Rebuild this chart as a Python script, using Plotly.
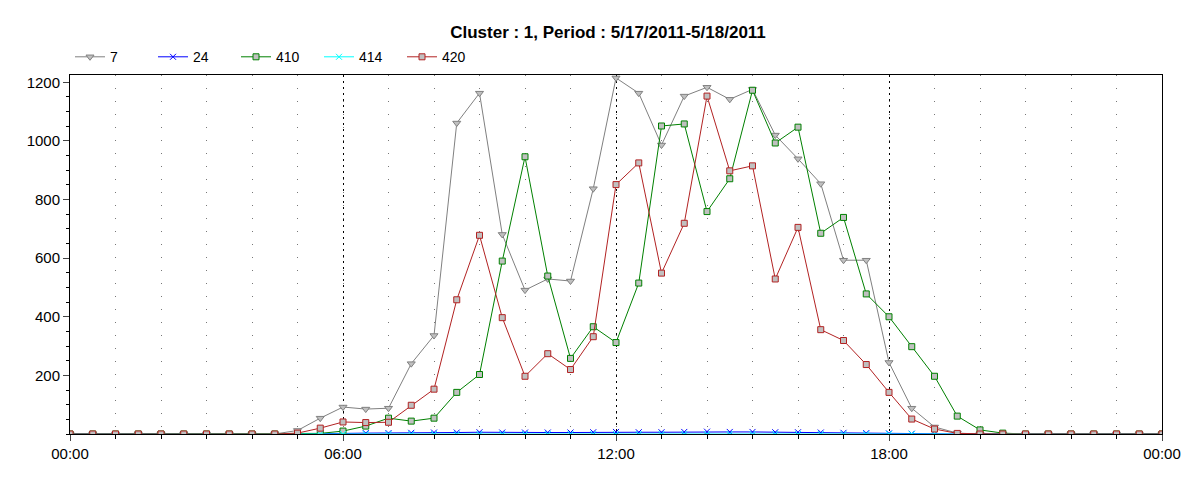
import plotly.graph_objects as go

hours = [i * 0.5 for i in range(49)]

s7 = [0, 0, 0, 0, 0, 0, 0, 0, 0, 0, 12, 54, 92, 85, 88, 240, 336, 1061, 1163, 681,
      491, 529, 522, 837, 1215, 1163, 986, 1153, 1183, 1142, 1176, 1020, 939, 854, 593, 593,
      244, 88, 24, 3, 0, 0, 0, 0, 0, 0, 0, 0, 0]
s24 = [0, 0, 0, 0, 0, 0, 0, 0, 0, 0, 0, 0, 2, 3, 3, 4, 5, 5, 6, 5,
       5, 5, 5, 6, 7, 6, 6, 7, 8, 7, 7, 6, 6, 5, 4, 3,
       2, 1, 0, 0, 0, 0, 0, 0, 0, 0, 0, 0, 0]
s410 = [0, 0, 0, 0, 0, 0, 0, 0, 0, 0, 0, 2, 10, 27, 54, 44, 54, 142, 203, 590,
        946, 539, 258, 366, 312, 515, 1051, 1058, 759, 871, 1173, 993, 1047, 685, 739, 478,
        400, 298, 197, 61, 14, 3, 0, 0, 0, 0, 0, 0, 0]
s414 = [0] * 49
s420 = [0, 0, 0, 0, 0, 0, 0, 0, 0, 0, 3, 20, 41, 39, 40, 98, 153, 458, 678, 397,
        197, 274, 220, 332, 851, 925, 549, 719, 1153, 898, 915, 529, 705, 356, 319, 237,
        142, 51, 17, 2, 0, 0, 0, 0, 0, 0, 0, 0, 0]

fig = go.Figure()
fig.add_trace(go.Scatter(x=hours, y=s7, name="7", mode="lines+markers",
                         line=dict(color="gray", width=1),
                         marker=dict(symbol="triangle-down", size=7, color="#c0c0c0",
                                     line=dict(color="gray", width=1))))
fig.add_trace(go.Scatter(x=hours, y=s24, name="24", mode="lines+markers",
                         line=dict(color="blue", width=1),
                         marker=dict(symbol="x-thin", size=6, line=dict(color="blue", width=1))))
fig.add_trace(go.Scatter(x=hours, y=s410, name="410", mode="lines+markers",
                         line=dict(color="green", width=1),
                         marker=dict(symbol="square", size=6, color="#c0c0c0",
                                     line=dict(color="green", width=1))))
fig.add_trace(go.Scatter(x=hours, y=s414, name="414", mode="lines+markers",
                         line=dict(color="cyan", width=1),
                         marker=dict(symbol="x-thin", size=6, line=dict(color="cyan", width=1))))
fig.add_trace(go.Scatter(x=hours, y=s420, name="420", mode="lines+markers",
                         line=dict(color="#b22222", width=1),
                         marker=dict(symbol="square", size=6, color="#c0c0c0",
                                     line=dict(color="#b22222", width=1))))

fig.update_layout(
    width=1200, height=480,
    margin=dict(l=62, r=46, t=67, b=54, autoexpand=False),
    paper_bgcolor="white", plot_bgcolor="white",
    font=dict(family="Liberation Sans, Arial", size=15, color="black"),
    title=dict(text="<b>Cluster : 1, Period : 5/17/2011-5/18/2011</b>", x=0.5, y=0.95,
               xanchor="center", yanchor="middle", font=dict(size=17)),
    legend=dict(orientation="h", x=0.0, y=1.005, xanchor="left", yanchor="bottom",
                font=dict(size=14), entrywidth=38, bgcolor="rgba(0,0,0,0)"),
    showlegend=True,
)
fig.update_xaxes(range=[0, 24], tickvals=[0, 6, 12, 18, 24],
                 ticktext=["00:00", "06:00", "12:00", "18:00", "00:00"],
                 showline=True, linecolor="black", mirror=True, ticks="outside", ticklen=6,
                 showgrid=True, gridcolor="black", griddash="2px,4px", gridwidth=1, zeroline=False,
                 automargin=False,
                 minor=dict(dtick=1, ticks="outside", ticklen=4, tickcolor="black",
                            showgrid=True, gridcolor="#777777", griddash="1px,12px"))
fig.update_yaxes(range=[0, 1225], tickvals=[200, 400, 600, 800, 1000, 1200],
                 showline=True, linecolor="black", mirror=True, ticks="outside", ticklen=6,
                 showgrid=False, zeroline=False, automargin=False,
                 minor=dict(dtick=50, ticks="outside", ticklen=3, tickcolor="black"))

fig.write_html("out.html")
